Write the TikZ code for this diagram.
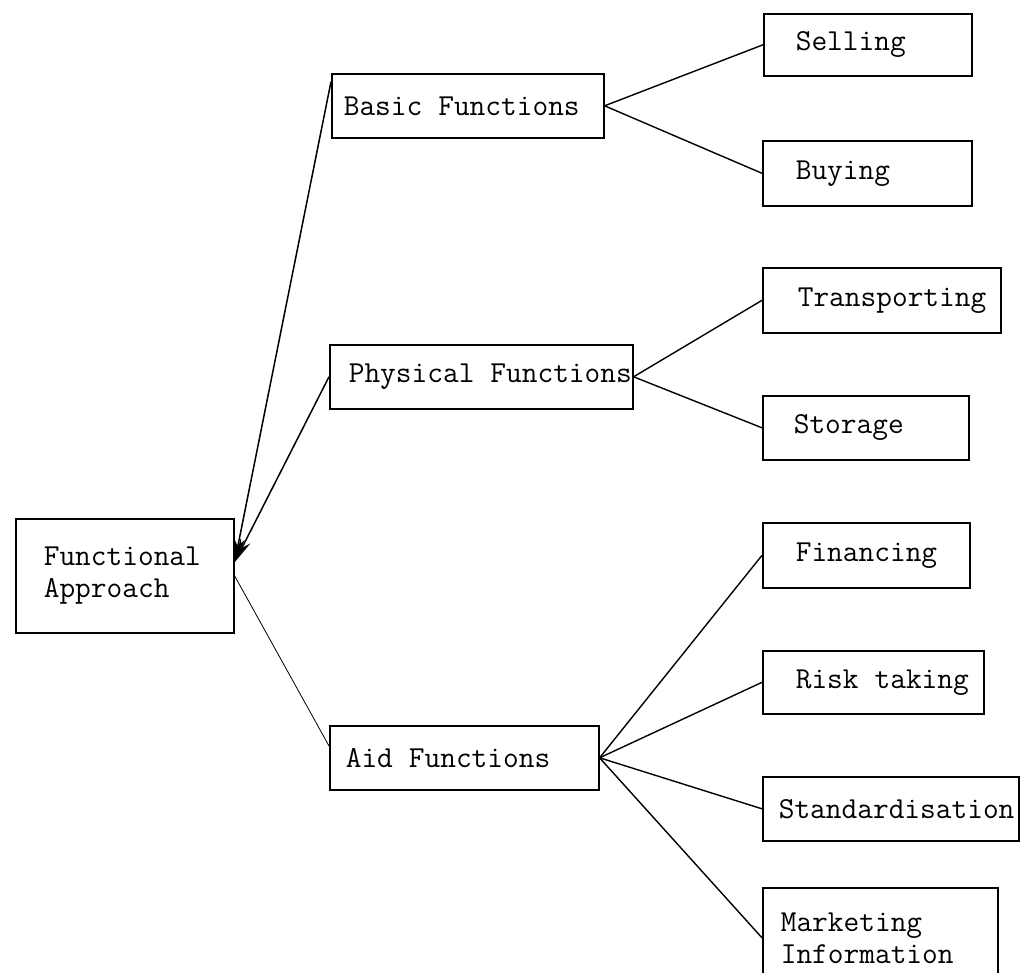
\documentclass[tikz,border=0pt]{standalone}
\usepackage{tikz}
\usetikzlibrary{arrows.meta}
\tikzset{
  box/.style={draw, line width=1.6pt, anchor=north west, align=left,
    inner ysep=0pt, font=\ttfamily\fontsize{30.5}{32}\selectfont,
    execute at begin node={\spaceskip=0.525em\relax}},
  flow/.style={draw, line width=1.5pt, -{Stealth[length=24pt,width=11pt]}},
  link/.style={draw, line width=1.4pt},
  thinlink/.style={draw, line width=0.8pt}
}
\begin{document}
\begin{tikzpicture}[x=1pt, y=-1pt]
    \useasboundingbox (0,0) rectangle (1030,972);
    % root
    \node[box, text width=162pt, inner xsep=28pt, minimum height=114pt] (fa) at (15,518)
      {Functional\\Approach};
    % middle level
    \node[box, text width=248pt, inner xsep=12pt, minimum height=64pt] (basic) at (331,73)
      {Basic Functions};
    \node[box, text width=265pt, inner xsep=19pt, minimum height=64pt] (physical) at (329,344)
      {\mbox{Physical Functions}};
    \node[box, text width=237pt, inner xsep=16pt, minimum height=64pt] (aid) at (329,725)
      {Aid Functions};
    % leaves
    \node[box, text width=144pt, inner xsep=32pt, minimum height=62pt] (selling) at (763,13) {Selling};
    \node[box, text width=143pt, inner xsep=33pt, minimum height=65pt] (buying) at (762,140) {Buying};
    \node[box, text width=168pt, inner xsep=35pt, minimum height=65pt] (transp) at (762,267) {Transporting};
    \node[box, text width=144pt, inner xsep=31pt, minimum height=64pt] (storage) at (762,395) {Storage};
    \node[box, text width=141pt, inner xsep=33pt, minimum height=65pt] (financing) at (762,522) {Financing};
    \node[box, text width=155pt, inner xsep=33pt, minimum height=63pt] (risk) at (762,650) {\mbox{Risk taking}};
    \node[box, text width=224pt, inner xsep=16pt, minimum height=64pt] (standard) at (762,776) {Standardisation};
    \node[box, text width=199pt, inner xsep=18pt, minimum height=100pt] (marketing) at (762,887)
      {Marketing\\Information};
    % connectors
    \draw[flow] (basic.170) -- (fa.7);
    \draw[flow] (physical.west) -- (fa.7);
    \draw[thinlink] (fa.east) -- (aid.175);
    \draw[link] (basic.east) -- (selling.west);
    \draw[link] (basic.east) -- (buying.west);
    \draw[link] (physical.east) -- (transp.west);
    \draw[link] (physical.east) -- (storage.west);
    \draw[link] (aid.east) -- (financing.west);
    \draw[link] (aid.east) -- (risk.west);
    \draw[link] (aid.east) -- (standard.west);
    \draw[link] (aid.east) -- (marketing.west);
\end{tikzpicture}
\end{document}
